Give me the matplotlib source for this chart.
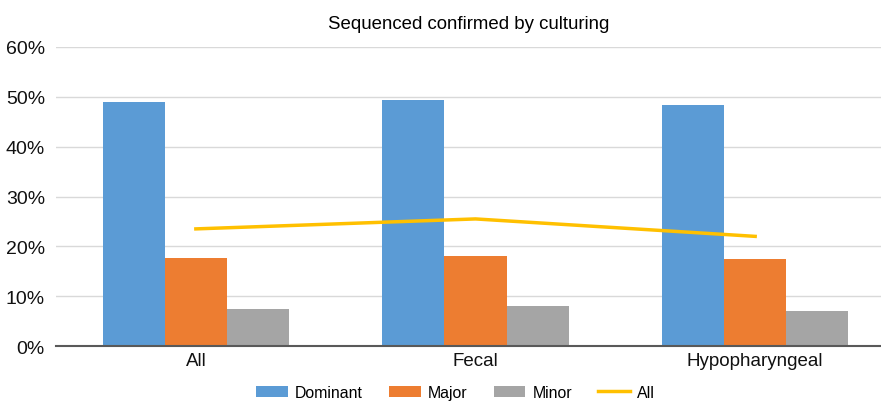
import matplotlib
matplotlib.use("Agg")
import matplotlib.pyplot as plt
import numpy as np

categories = ["All", "Fecal", "Hypopharyngeal"]
dominant = [48.9, 49.4, 48.4]
major = [17.6, 18.0, 17.4]
minor = [7.5, 8.0, 7.1]
all_line = [23.5, 25.5, 22.0]
yticks = [0, 10, 20, 30, 40, 50, 60]

plt.rcParams['font.family'] = ['Liberation Sans', 'DejaVu Sans']

fig = plt.figure(figsize=(8.81, 4.02), dpi=100)
ax = fig.add_axes([0.0636, 0.1368, 0.9364, 0.7438])

x = np.arange(len(categories))
w = 0.222
b1 = ax.bar(x - w, dominant, w, color="#5B9BD5", label="Dominant", zorder=2)
b2 = ax.bar(x, major, w, color="#ED7D31", label="Major", zorder=2)
b3 = ax.bar(x + w, minor, w, color="#A5A5A5", label="Minor", zorder=2)
l1, = ax.plot(x, all_line, color="#FFC000", lw=2.5, label="All", zorder=3)

ax.set_xlim(-0.5, 2.45)
ax.set_ylim(0, 60)
ax.set_yticks(yticks)
ax.set_yticklabels([f"{v}%" for v in yticks], fontsize=14)
ax.set_xticks(x)
ax.set_xticklabels(categories, fontsize=13.5)
ax.tick_params(axis='both', length=0, colors="#111111")
ax.tick_params(axis='y', pad=8)
ax.tick_params(axis='x', pad=4)
ax.yaxis.grid(True, color="#D9D9D9", lw=1)
ax.set_axisbelow(True)
for s in ["top", "right", "left"]:
    ax.spines[s].set_visible(False)
ax.spines["bottom"].set_color("#595959")
ax.spines["bottom"].set_linewidth(1.5)
ax.spines["bottom"].set_zorder(4)

ax.set_title("Sequenced confirmed by culturing", fontsize=13.4, pad=14, x=0.5)

leg = fig.legend([b1, b2, b3, l1], ["Dominant", "Major", "Minor", "All"],
                 loc="lower center", bbox_to_anchor=(0.517, -0.032), ncol=4, frameon=False,
                 fontsize=11.4, handlelength=2.0, handleheight=0.7, handletextpad=0.45,
                 columnspacing=1.65)

fig.savefig("out.png", dpi=100)
